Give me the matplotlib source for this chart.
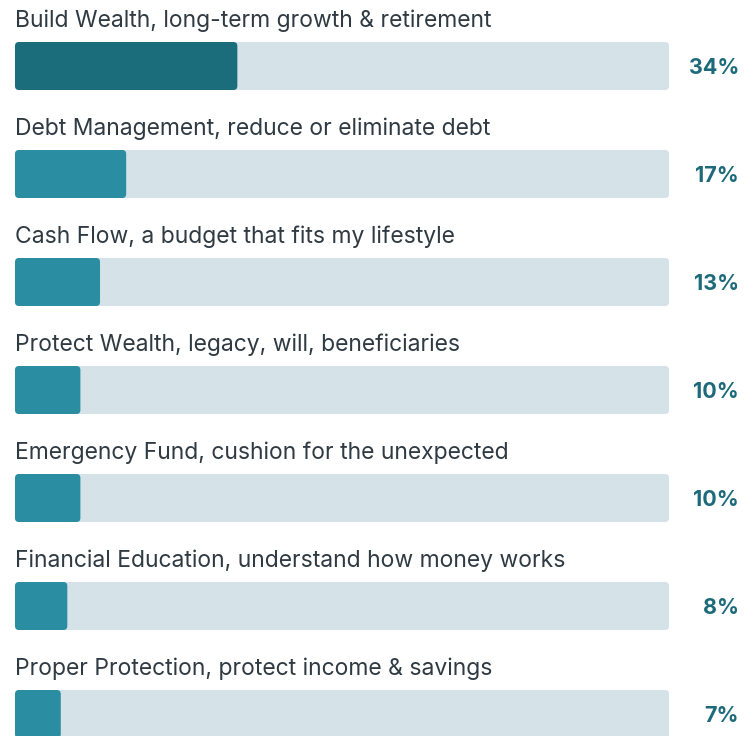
import matplotlib
matplotlib.use("Agg")
import matplotlib.pyplot as plt
from matplotlib.patches import FancyBboxPatch

categories = [
    "Build Wealth, long-term growth & retirement",
    "Debt Management, reduce or eliminate debt",
    "Cash Flow, a budget that fits my lifestyle",
    "Protect Wealth, legacy, will, beneficiaries",
    "Emergency Fund, cushion for the unexpected",
    "Financial Education, understand how money works",
    "Proper Protection, protect income & savings",
]
values = [34, 17, 13, 10, 10, 8, 7]
value_labels = ["34%", "17%", "13%", "10%", "10%", "8%", "7%"]

W, H, DPI = 753, 736, 100
ROW = 108.0  # pixels per row

TRACK = "#d5e3e8"
TOP_FILL = "#1c6d7c"
FILL = "#2a8da1"
LABEL_C = "#2f3a42"
PCT_C = "#1d6b7a"

plt.rcParams["font.family"] = ["Inter", "DejaVu Sans"]

fig = plt.figure(figsize=(W / DPI, H / DPI), dpi=DPI)
left_px, track_px = 15, 654
ax = fig.add_axes([left_px / W, 0, track_px / W, 1])
ax.set_xlim(0, 100)
ax.set_ylim(H / ROW, 0)
ax.axis("off")

px_x = track_px / 100.0          # pixels per x unit
aspect = px_x / ROW               # y units per x unit for equal pixel size
radius = 4 / px_x
bar_top = 42 / ROW
bar_h = 48 / ROW

for i, (cat, v, lab) in enumerate(zip(categories, values, value_labels)):
    y0 = i + bar_top
    ax.add_patch(FancyBboxPatch((0, y0), 100, bar_h,
                                boxstyle=f"round,pad=0,rounding_size={radius}",
                                mutation_aspect=aspect, fc=TRACK, ec="none",
                                clip_on=False))
    ax.add_patch(FancyBboxPatch((0, y0), v, bar_h,
                                boxstyle=f"round,pad=0,rounding_size={radius}",
                                mutation_aspect=aspect,
                                fc=TOP_FILL if i == 0 else FILL, ec="none",
                                clip_on=False))
    ax.text(0, i + 26.7 / ROW, cat, ha="left", va="baseline",
            fontsize=16.5, color=LABEL_C, clip_on=False)
    ax.text(100 + (739 - 669) / px_x, i + 74.3 / ROW, lab, ha="right",
            va="baseline", fontsize=15.5, fontweight="bold", color=PCT_C,
            clip_on=False)

fig.savefig("out.png", dpi=DPI, facecolor="white")
